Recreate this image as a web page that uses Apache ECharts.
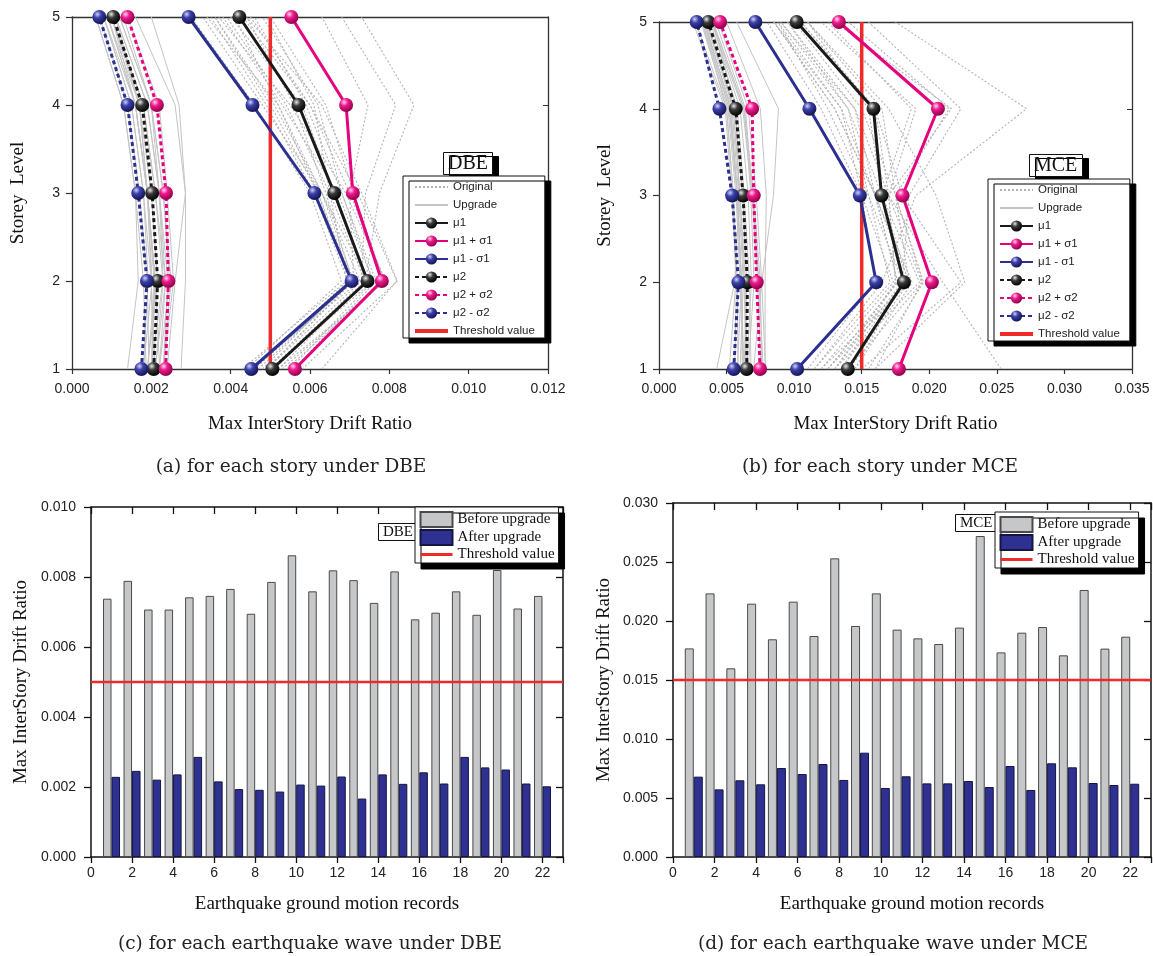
<!DOCTYPE html>
<html><head><meta charset="utf-8">
<script src="https://cdn.jsdelivr.net/npm/echarts@6/dist/echarts.min.js"></script>
<style>html,body{margin:0;padding:0;background:#fff}#c{width:1153px;height:956px}</style>
</head><body><div id="c"></div>
<script>
// ---------------- DATA ----------------
const storeys = [1, 2, 3, 4, 5];
const records = [1,2,3,4,5,6,7,8,9,10,11,12,13,14,15,16,17,18,19,20,21,22];
const dbeXTicks = [0, 0.002, 0.004, 0.006, 0.008, 0.010, 0.012];
const mceXTicks = [0, 0.005, 0.010, 0.015, 0.020, 0.025, 0.030, 0.035];
const thresholdDBE = 0.005;
const thresholdMCE = 0.015;

// statistics per storey (storey 1..5)
const mu1_DBE  = [0.00505, 0.00745, 0.00661, 0.00571, 0.00422];
const mu1p_DBE = [0.00562, 0.00781, 0.00708, 0.00691, 0.00553];
const mu1m_DBE = [0.00452, 0.00705, 0.00611, 0.00455, 0.00294];
const mu2_DBE  = [0.00206, 0.00216, 0.00202, 0.00177, 0.00104];
const mu2p_DBE = [0.00236, 0.00243, 0.00237, 0.00214, 0.00140];
const mu2m_DBE = [0.00175, 0.00189, 0.00167, 0.00140, 0.00069];

const mu1_MCE  = [0.01397, 0.01812, 0.01647, 0.01587, 0.01019];
const mu1p_MCE = [0.01775, 0.02019, 0.01802, 0.02064, 0.01331];
const mu1m_MCE = [0.01022, 0.01607, 0.01486, 0.01113, 0.00713];
const mu2_MCE  = [0.00649, 0.00654, 0.00622, 0.00568, 0.00365];
const mu2p_MCE = [0.00748, 0.00723, 0.00701, 0.00689, 0.00452];
const mu2m_MCE = [0.00553, 0.00588, 0.00541, 0.00447, 0.00279];

// per-record drift profiles (storey 1..5)
const orig_DBE = [
 [0.0050,0.00738,0.0065,0.0054,0.0039],[0.0054,0.00789,0.0070,0.0060,0.0045],
 [0.0047,0.00707,0.0062,0.0050,0.0036],[0.0049,0.00707,0.0064,0.0056,0.0044],
 [0.0052,0.00742,0.0066,0.0058,0.0040],[0.0050,0.00746,0.0063,0.0048,0.0033],
 [0.0056,0.00766,0.0068,0.0059,0.0046],[0.0046,0.00695,0.0061,0.0049,0.0035],
 [0.0053,0.00786,0.0071,0.0064,0.0050],[0.0051,0.0074,0.00775,0.00862,0.0073],
 [0.0055,0.00759,0.0067,0.0053,0.0038],[0.0063,0.00819,0.0072,0.0060,0.0043],
 [0.0052,0.00791,0.0069,0.0055,0.0037],[0.0045,0.00726,0.0063,0.0051,0.0036],
 [0.0049,0.0073,0.0074,0.00816,0.0068],[0.0044,0.00679,0.0060,0.0046,0.0030],
 [0.0048,0.00698,0.0062,0.0052,0.0041],[0.0050,0.00759,0.0068,0.0062,0.0048],
 [0.0043,0.00692,0.0065,0.0061,0.0049],[0.0058,0.0082,0.0073,0.0063,0.0044],
 [0.0046,0.0071,0.0063,0.0052,0.0034],[0.0049,0.0071,0.0070,0.00746,0.0063]
];
const upg_DBE = [
 [0.0020,0.00229,0.0021,0.0018,0.0010],[0.0022,0.00246,0.0023,0.0020,0.0012],
 [0.00221,0.0021,0.0019,0.0016,0.0009],[0.0021,0.00236,0.0022,0.0019,0.0011],
 [0.00275,0.00286,0.00286,0.0027,0.0020],[0.0019,0.00216,0.0020,0.0017,0.0009],
 [0.00194,0.0019,0.0017,0.0014,0.0007],[0.0018,0.00192,0.0018,0.0015,0.0008],
 [0.00187,0.0018,0.0016,0.0013,0.0006],[0.0020,0.00207,0.0019,0.0016,0.0009],
 [0.00204,0.0020,0.0018,0.0015,0.0008],[0.0021,0.00230,0.0022,0.0020,0.0013],
 [0.0014,0.00167,0.0016,0.0013,0.0006],[0.0022,0.00236,0.0021,0.0018,0.0010],
 [0.00209,0.0020,0.0019,0.0017,0.0010],[0.0023,0.00242,0.0022,0.0019,0.0011],
 [0.0019,0.00210,0.0019,0.0016,0.0008],[0.0024,0.0026,0.00286,0.0026,0.0016],
 [0.0023,0.00256,0.0024,0.0022,0.0014],[0.0023,0.00250,0.0023,0.0020,0.0012],
 [0.0020,0.00210,0.0019,0.0016,0.0010],[0.0018,0.00202,0.0019,0.0017,0.0011]
];
const orig_MCE = [
 [0.0125,0.01768,0.0160,0.0145,0.0090],[0.0150,0.02234,0.0180,0.0160,0.0105],
 [0.0110,0.01599,0.0150,0.0135,0.0085],[0.0140,0.0185,0.0175,0.02147,0.0140],
 [0.0120,0.01845,0.0165,0.0140,0.0095],[0.0135,0.0175,0.0170,0.02164,0.0130],
 [0.0145,0.01873,0.0160,0.0135,0.0088],[0.02531,0.0210,0.0170,0.0145,0.0095],
 [0.0155,0.01958,0.0175,0.0150,0.0100],[0.0145,0.0180,0.0185,0.02234,0.0155],
 [0.0130,0.01927,0.0165,0.0155,0.0110],[0.0125,0.01853,0.0160,0.0130,0.0085],
 [0.0135,0.01805,0.0155,0.0140,0.0090],[0.0160,0.01944,0.0170,0.0160,0.0105],
 [0.0115,0.0165,0.0190,0.02720,0.0175],[0.0120,0.01734,0.0150,0.0120,0.0080],
 [0.0130,0.0175,0.0170,0.01901,0.0120],[0.0140,0.01949,0.0175,0.0165,0.0110],
 [0.0115,0.01709,0.0155,0.0125,0.0088],[0.0160,0.02263,0.0205,0.0170,0.0110],
 [0.0125,0.01766,0.0160,0.0130,0.0085],[0.0130,0.0180,0.0165,0.01867,0.0125]
];
const upg_MCE = [
 [0.00681,0.0067,0.0063,0.0058,0.0038],[0.0056,0.00573,0.0054,0.0049,0.0025],
 [0.0063,0.00650,0.0062,0.0056,0.0036],[0.00616,0.0061,0.0058,0.0052,0.0032],
 [0.00754,0.0073,0.0069,0.0064,0.0042],[0.0066,0.00703,0.0068,0.0063,0.0040],
 [0.00788,0.0076,0.0072,0.0066,0.0044],[0.00653,0.0064,0.0060,0.0055,0.0035],
 [0.0070,0.0076,0.00847,0.00884,0.00575],[0.00585,0.0058,0.0055,0.0050,0.0027],
 [0.0065,0.00684,0.0066,0.0060,0.0039],[0.00624,0.0061,0.0058,0.0053,0.0034],
 [0.0060,0.00624,0.0059,0.0054,0.0033],[0.00644,0.0063,0.0060,0.0055,0.0035],
 [0.00427,0.0056,0.00593,0.0057,0.0040],[0.00771,0.0074,0.0069,0.0062,0.0039],
 [0.0052,0.00568,0.0055,0.0050,0.0032],[0.00785,0.00785,0.00794,0.0075,0.0050],
 [0.00760,0.0075,0.0070,0.0063,0.0040],[0.00627,0.0061,0.0058,0.0053,0.0034],
 [0.0058,0.00610,0.0058,0.0052,0.0033],[0.00621,0.0060,0.0057,0.0051,0.0031]
];

// max drift per record
const before_DBE = [0.00738,0.00789,0.00707,0.00707,0.00742,0.00746,0.00766,0.00695,0.00786,0.00862,0.00759,
                    0.00819,0.00791,0.00726,0.00816,0.00679,0.00698,0.00759,0.00692,0.00820,0.00710,0.00746];
const after_DBE  = [0.00229,0.00246,0.00221,0.00236,0.00286,0.00216,0.00194,0.00192,0.00187,0.00207,0.00204,
                    0.00230,0.00167,0.00236,0.00209,0.00242,0.00210,0.00286,0.00256,0.00250,0.00210,0.00202];
const before_MCE = [0.01768,0.02234,0.01599,0.02147,0.01845,0.02164,0.01873,0.02531,0.01958,0.02234,0.01927,
                    0.01853,0.01805,0.01944,0.02720,0.01734,0.01901,0.01949,0.01709,0.02263,0.01766,0.01867];
const after_MCE  = [0.00681,0.00573,0.00650,0.00616,0.00754,0.00703,0.00788,0.00653,0.00884,0.00585,0.00684,
                    0.00624,0.00624,0.00644,0.00593,0.00771,0.00568,0.00794,0.00760,0.00627,0.00610,0.00621];

// ---------------- STYLE ----------------
const SANS = 'Liberation Sans, Arial, sans-serif';
const SERIF = 'Liberation Serif, Times New Roman, serif';
const CAP = 'DejaVu Serif, serif';
const BLACK = '#1a1a1a', PINK = '#e5007d', BLUE = '#2b3090', RED = '#ee2a2a';
function ball(hi, mid, lo) {
  return {type: 'radial', x: 0.36, y: 0.3, r: 0.72,
    colorStops: [{offset: 0, color: hi}, {offset: 0.38, color: mid}, {offset: 1, color: lo}]};
}
const BALL_K = ball('#e8e8e8', '#3a3a3a', '#000000');
const BALL_P = ball('#ffd6ee', '#ee1a8c', '#8c004a');
const BALL_B = ball('#d0d0f4', '#3b40aa', '#12144f');

const fmt3 = v => v.toFixed(3);
const prof = arr => arr.map((v, i) => [v, storeys[i]]);
const NAME_STYLE = {fontFamily: SERIF, fontSize: 19, color: '#111'};

// ---------------- AXES ----------------
const xAxis = [], yAxis = [];
function driftX(grid, ticks, color) {
  const iv = ticks[1] - ticks[0];
  xAxis.push({type: 'value', gridIndex: grid, min: ticks[0], max: ticks[ticks.length - 1], interval: iv,
    axisLine: {show: true, onZero: false, lineStyle: {color: color, width: 1.3}},
    axisTick: {show: true, inside: false, length: 5, lineStyle: {color: color, width: 1.2}},
    axisLabel: {formatter: fmt3, fontFamily: SANS, fontSize: 14, color: '#222', margin: 13},
    splitLine: {show: false},
    name: 'Max InterStory Drift Ratio', nameLocation: 'middle', nameGap: 46, nameTextStyle: NAME_STYLE});
  xAxis.push({type: 'value', gridIndex: grid, position: 'top', min: ticks[0], max: ticks[ticks.length - 1], interval: iv,
    axisLine: {show: true, onZero: false, lineStyle: {color: color, width: 1.3}},
    axisTick: {show: false}, axisLabel: {show: false}, splitLine: {show: false}});
}
function storeyY(grid, nameGap, color) {
  yAxis.push({type: 'value', gridIndex: grid, min: 1, max: 5, interval: 1,
    axisLine: {show: true, onZero: false, lineStyle: {color: color, width: 1.3}},
    axisTick: {show: true, inside: false, length: 6, lineStyle: {color: color, width: 1.2}},
    axisLabel: {fontFamily: SANS, fontSize: 14, color: '#222', margin: 12},
    splitLine: {show: false},
    name: 'Storey  Level', nameLocation: 'middle', nameGap: nameGap, nameTextStyle: NAME_STYLE});
  yAxis.push({type: 'value', gridIndex: grid, position: 'right', min: 1, max: 5, interval: 1,
    axisLine: {show: true, onZero: false, lineStyle: {color: color, width: 1.3}},
    axisTick: {show: true, inside: true, length: 5, lineStyle: {color: color}},
    axisLabel: {show: false}, splitLine: {show: false}});
}
function recordX(grid) {
  const common = {type: 'value', gridIndex: grid, min: 0, max: 23, interval: 2, splitLine: {show: false}};
  xAxis.push(Object.assign({}, common, {
    axisLine: {show: true, onZero: false, lineStyle: {color: '#111', width: 1.5}},
    axisTick: {show: true, inside: false, length: 6, lineStyle: {color: '#111', width: 1.3}},
    axisLabel: {formatter: v => (v > 22 ? '' : String(v)), fontFamily: SANS, fontSize: 14, color: '#222', margin: 9},
    name: 'Earthquake ground motion records', nameLocation: 'middle', nameGap: 38, nameTextStyle: NAME_STYLE}));
  xAxis.push(Object.assign({}, common, {position: 'top',
    axisLine: {show: true, onZero: false, lineStyle: {color: '#111', width: 1.5}},
    axisTick: {show: true, inside: true, length: 7, lineStyle: {color: '#111', width: 1.3}},
    axisLabel: {show: false}}));
}
function driftY(grid, max, iv, nameGap) {
  const common = {type: 'value', gridIndex: grid, min: 0, max: max, interval: iv, splitLine: {show: false}};
  yAxis.push(Object.assign({}, common, {
    axisLine: {show: true, onZero: false, lineStyle: {color: '#111', width: 1.5}},
    axisTick: {show: true, inside: false, length: 7, lineStyle: {color: '#111', width: 1.3}},
    axisLabel: {formatter: fmt3, fontFamily: SANS, fontSize: 14, color: '#222', margin: 15},
    name: 'Max InterStory Drift Ratio', nameLocation: 'middle', nameGap: nameGap, nameTextStyle: NAME_STYLE}));
  yAxis.push(Object.assign({}, common, {position: 'right',
    axisLine: {show: true, onZero: false, lineStyle: {color: '#111', width: 1.5}},
    axisTick: {show: true, inside: true, length: 7, lineStyle: {color: '#111', width: 1.3}},
    axisLabel: {show: false}}));
}
driftX(0, dbeXTicks, '#333'); storeyY(0, 44, '#333');
driftX(1, mceXTicks, '#333'); storeyY(1, 44, '#333');
recordX(2); driftY(2, 0.010, 0.002, 60);
recordX(3); driftY(3, 0.030, 0.005, 59);

// ---------------- SERIES ----------------
const series = [];
function profilePanel(ax, orig, upg, stats, thr) {
  orig.forEach(r => series.push({type: 'line', name: 'Original', xAxisIndex: ax, yAxisIndex: ax, data: prof(r),
    symbol: 'none', silent: true, z: 1, lineStyle: {color: '#b4b4b4', width: 1.1, type: [2, 2]}, itemStyle: {color: '#b4b4b4'}}));
  upg.forEach(r => series.push({type: 'line', name: 'Upgrade', xAxisIndex: ax, yAxisIndex: ax, data: prof(r),
    symbol: 'none', silent: true, z: 1, lineStyle: {color: '#c4c4c4', width: 1}, itemStyle: {color: '#c4c4c4'}}));
  series.push({type: 'line', name: 'Threshold value', xAxisIndex: ax, yAxisIndex: ax, data: [[thr, 1], [thr, 5]],
    symbol: 'none', z: 3, lineStyle: {color: RED, width: 3.5}, itemStyle: {color: RED}});
  const defs = [
    ['μ1', stats[0], BLACK, BALL_K, 'solid'], ['μ1 + σ1', stats[1], PINK, BALL_P, 'solid'], ['μ1 - σ1', stats[2], BLUE, BALL_B, 'solid'],
    ['μ2', stats[3], BLACK, BALL_K, [4, 3]], ['μ2 + σ2', stats[4], PINK, BALL_P, [4, 3]], ['μ2 - σ2', stats[5], BLUE, BALL_B, [4, 3]]];
  defs.forEach(d => series.push({type: 'line', name: d[0], xAxisIndex: ax, yAxisIndex: ax, data: prof(d[1]),
    symbol: 'circle', symbolSize: 14, z: 4, lineStyle: {color: d[2], width: 3, type: d[4]}, itemStyle: {color: d[3]}}));
}
profilePanel(0, orig_DBE, upg_DBE, [mu1_DBE, mu1p_DBE, mu1m_DBE, mu2_DBE, mu2p_DBE, mu2m_DBE], thresholdDBE);
profilePanel(2, orig_MCE, upg_MCE, [mu1_MCE, mu1p_MCE, mu1m_MCE, mu2_MCE, mu2p_MCE, mu2m_MCE], thresholdMCE);

function barPanel(ax, before, after, thr, bw) {
  series.push({type: 'bar', name: 'Before upgrade', xAxisIndex: ax, yAxisIndex: ax, barWidth: bw, barGap: '0%',
    data: records.map((r, i) => [r, before[i]]), z: 2,
    itemStyle: {color: '#c6c7c8', borderColor: '#4a4a4a', borderWidth: 1}});
  series.push({type: 'bar', name: 'After upgrade', xAxisIndex: ax, yAxisIndex: ax, barWidth: bw, barGap: '0%',
    data: records.map((r, i) => [r, after[i]]), z: 2,
    itemStyle: {color: '#2e3192', borderColor: '#15163f', borderWidth: 1}});
  series.push({type: 'line', name: 'Threshold value', xAxisIndex: ax, yAxisIndex: ax, data: [[0, thr], [23, thr]],
    symbol: 'none', z: 3, lineStyle: {color: RED, width: 2.5}, itemStyle: {color: RED}});
}
barPanel(4, before_DBE, after_DBE, thresholdDBE, 8.5);
barPanel(6, before_MCE, after_MCE, thresholdMCE, 9);

// ---------------- LEGENDS & LABELS ----------------
const profLegendNames = ['Original', 'Upgrade', 'μ1', 'μ1 + σ1', 'μ1 - σ1', 'μ2', 'μ2 + σ2', 'μ2 - σ2', 'Threshold value'];
const HIDE_SYM = {opacity: 0, color: 'rgba(0,0,0,0)', borderWidth: 0};
function profLegend(left, top) {
  const data = profLegendNames.map(n => {
    if (n === 'Threshold value') return {name: n, itemStyle: HIDE_SYM, lineStyle: {width: 4, color: RED}};
    if (n === 'Original' || n === 'Upgrade') return {name: n, itemStyle: HIDE_SYM};
    return n;
  });
  return {orient: 'vertical', left: left, top: top, data: data, selectedMode: false,
    itemWidth: 33, itemHeight: 14, itemGap: 6, padding: [5, 10, 1, 10],
    backgroundColor: '#fff', borderColor: '#111', borderWidth: 1,
    shadowColor: '#000', shadowBlur: 0, shadowOffsetX: 6, shadowOffsetY: 5,
    textStyle: {fontFamily: SANS, fontSize: 11.5, color: '#222'}};
}
function barLegend(left, top) {
  return {orient: 'vertical', left: left, top: top, selectedMode: false,
    data: [{name: 'Before upgrade', icon: 'rect'}, {name: 'After upgrade', icon: 'rect'},
           {name: 'Threshold value', itemStyle: HIDE_SYM, lineStyle: {width: 3, color: RED}}],
    itemWidth: 32, itemHeight: 15, itemGap: 1, padding: [4, 4, 1, 4],
    backgroundColor: '#fff', borderColor: '#111', borderWidth: 1,
    shadowColor: '#000', shadowBlur: 0, shadowOffsetX: 6, shadowOffsetY: 6,
    textStyle: {fontFamily: SERIF, fontSize: 15, color: '#111'}};
}
function tag(text, left, top, size, shadow) {
  return {text: text, left: left, top: top, z: 3, padding: [2, 5, 1, 5],
    backgroundColor: '#fff', borderColor: '#111', borderWidth: 1,
    shadowColor: shadow ? '#000' : 'transparent', shadowBlur: 0, shadowOffsetX: shadow ? 6 : 0, shadowOffsetY: shadow ? 4 : 0,
    textStyle: {fontFamily: SERIF, fontSize: size, fontWeight: 'normal', color: '#111'}};
}
function caption(text, cx, top) {
  return {text: text, left: cx, top: top, textAlign: 'center',
    textStyle: {fontFamily: CAP, fontSize: 18.5, fontWeight: 'normal', color: '#222'}};
}

const option = {
  animation: false,
  backgroundColor: '#fff',
  grid: [
    {left: 72, top: 17, width: 476, height: 352, containLabel: false, outerBoundsMode: 'none'},
    {left: 659, top: 22, width: 473, height: 347, containLabel: false, outerBoundsMode: 'none'},
    {left: 91, top: 507, width: 472, height: 350, containLabel: false, outerBoundsMode: 'none'},
    {left: 673, top: 503, width: 478, height: 354, containLabel: false, outerBoundsMode: 'none'}
  ],
  xAxis: xAxis,
  yAxis: yAxis,
  legend: [profLegend(403, 176), profLegend(988, 179), barLegend(415, 507), barLegend(995, 512)],
  title: [
    tag('DBE', 443, 152, 20, true), tag('MCE', 1029, 154, 20, true),
    tag('DBE', 378, 523, 15, false), tag('MCE', 955, 514, 15, false),
    caption('(a) for each story under DBE', 286, 453),
    caption('(b) for each story under MCE', 875, 453),
    caption('(c) for each earthquake wave under DBE', 305, 930),
    caption('(d) for each earthquake wave under MCE', 888, 930)
  ],
  series: series
};
const chart = echarts.init(document.getElementById('c'));
chart.setOption(option);
</script>
</body></html>
